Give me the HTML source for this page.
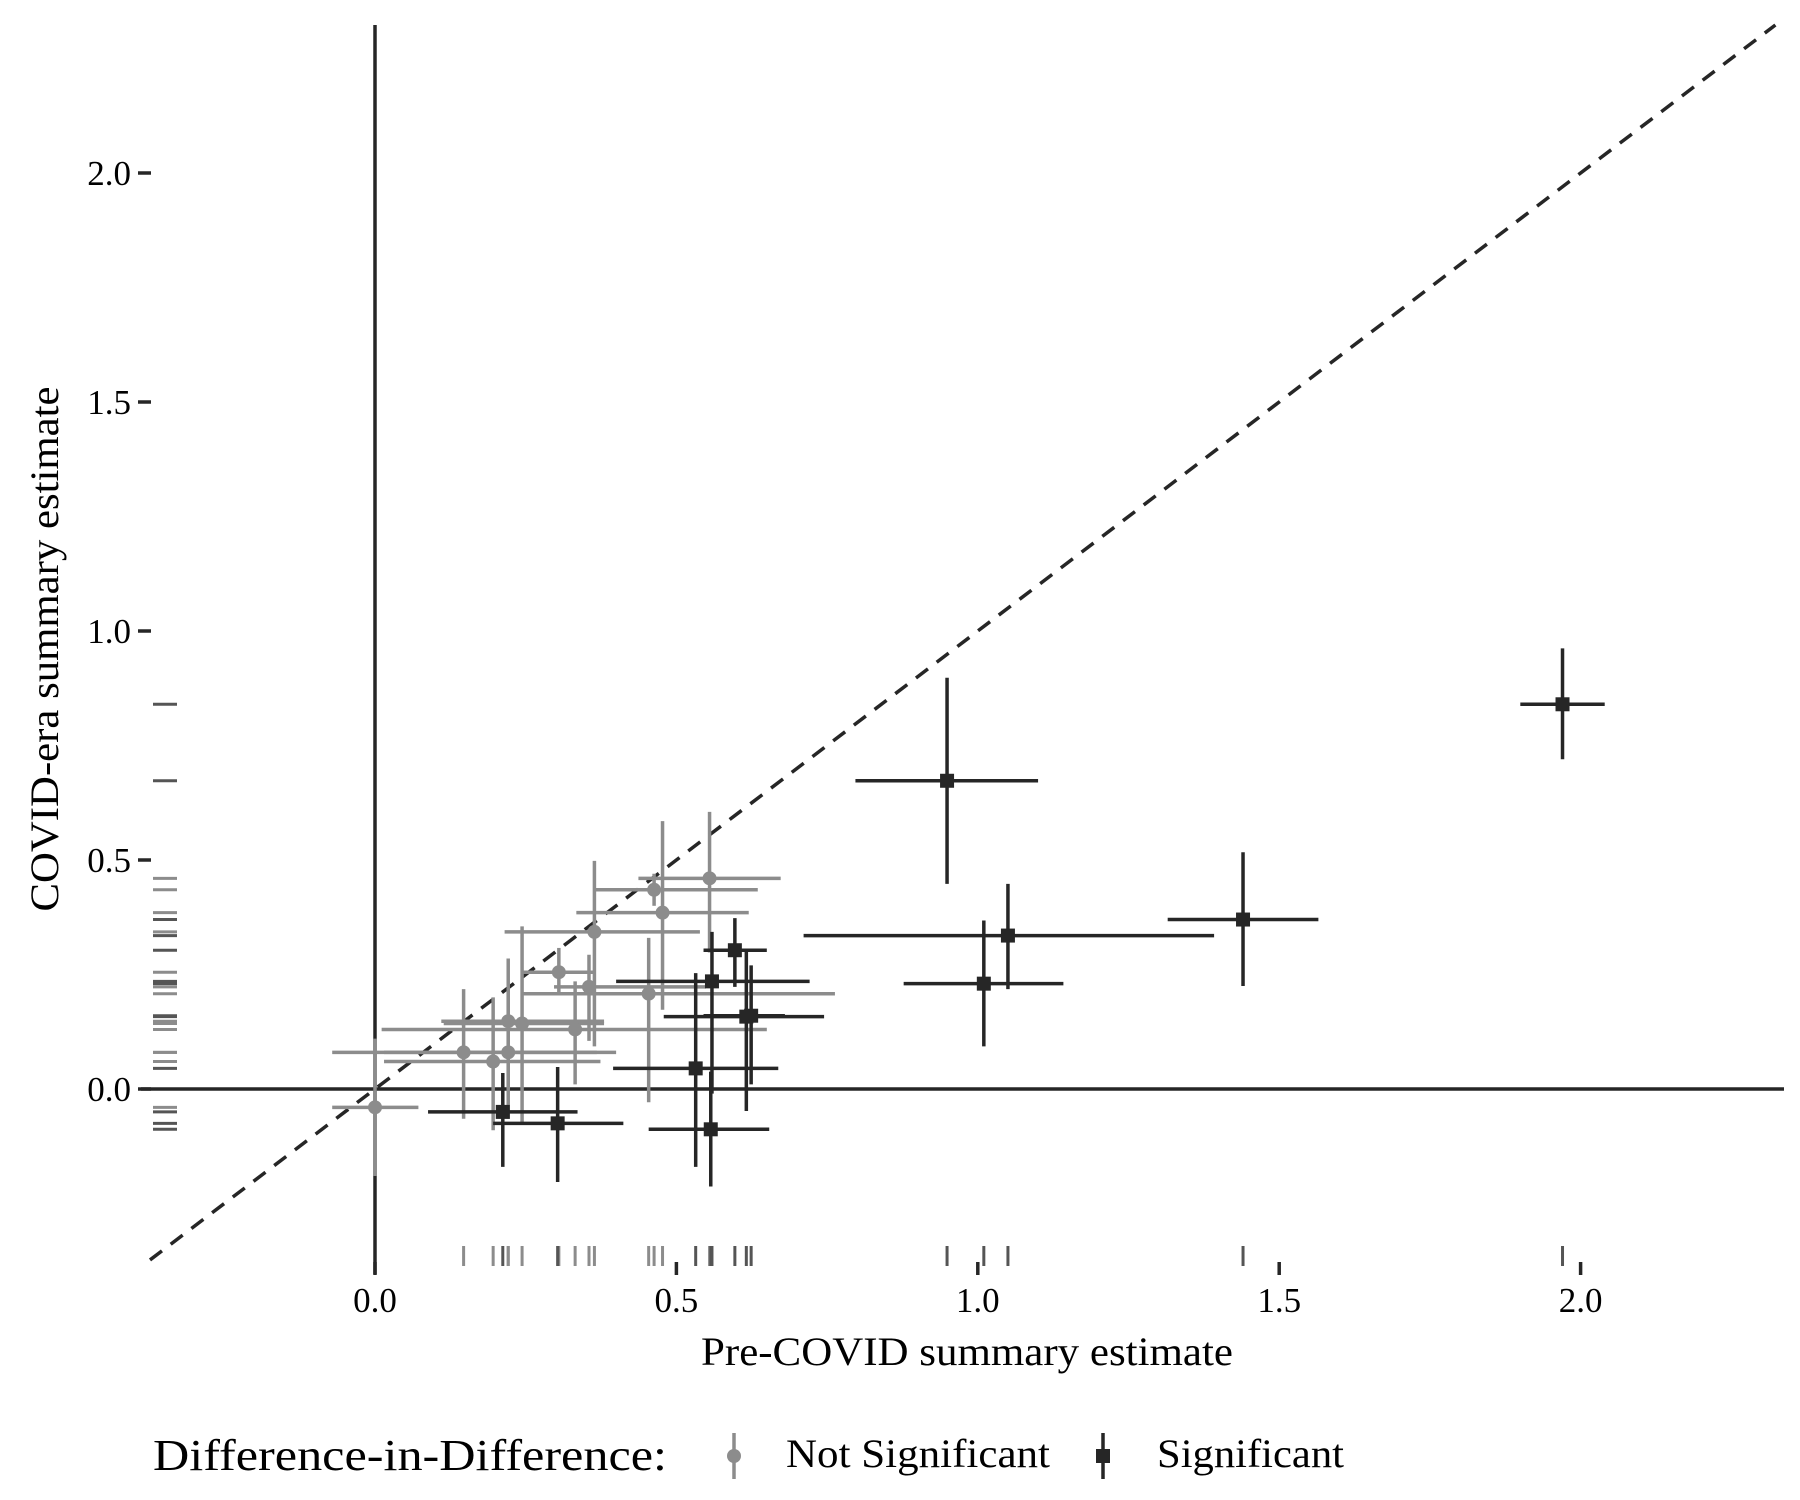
<!DOCTYPE html>
<html><head><meta charset="utf-8"><style>
html,body{margin:0;padding:0;background:#fff;}
svg{display:block;font-family:"Liberation Serif",serif;}
</style></head><body>
<svg id="chart" width="1800" height="1500" viewBox="0 0 1800 1500">
<g id="rugs"></g>
<g id="refs"></g>
<g id="marks"></g>
<g id="axes"></g>
<text x="967" y="1365" font-size="40" text-anchor="middle" textLength="532" lengthAdjust="spacingAndGlyphs">Pre-COVID summary estimate</text>
<text transform="translate(58,649) rotate(-90)" font-size="40" text-anchor="middle" textLength="525" lengthAdjust="spacingAndGlyphs">COVID-era summary estimate</text>
<g>
<text x="153" y="1470" font-size="44" textLength="514" lengthAdjust="spacingAndGlyphs">Difference-in-Difference:</text>
<g>
<line x1="734" y1="1433" x2="734" y2="1479" stroke="#8c8c8c" stroke-width="3.5"/>
<circle cx="734" cy="1456" r="7" fill="#8c8c8c"/>
<text x="786" y="1467" font-size="40" textLength="264" lengthAdjust="spacingAndGlyphs">Not Significant</text>
</g>
<g>
<line x1="1103" y1="1433" x2="1103" y2="1479" stroke="#262626" stroke-width="3.5"/>
<rect x="1096" y="1449" width="14" height="14" fill="#262626"/>
<text x="1157" y="1467" font-size="40" textLength="187" lengthAdjust="spacingAndGlyphs">Significant</text>
</g>
</g>
</svg>
<script>
// Not significant series
const nsX  = [0, 0.147, 0.196, 0.221, 0.221, 0.244, 0.305, 0.332, 0.355, 0.364, 0.454, 0.463, 0.477, 0.555];
const nsY  = [-0.04, 0.08, 0.06, 0.08, 0.148, 0.143, 0.255, 0.13, 0.223, 0.343, 0.208, 0.435, 0.385, 0.46];
const nsXlo = [-0.071, -0.071, 0.015, 0.015, 0.11, 0.114, 0.244, 0.011, 0.297, 0.215, 0.244, 0.362, 0.334, 0.437];
const nsXhi = [0.072, 0.368, 0.374, 0.40, 0.38, 0.38, 0.362, 0.65, 0.549, 0.539, 0.763, 0.635, 0.62, 0.673];
const nsYlo = [-0.19, -0.065, -0.09, -0.065, 0.0, -0.073, 0.208, 0.01, 0.105, 0.093, -0.029, 0.40, 0.173, 0.298];
const nsYhi = [0.11, 0.218, 0.2, 0.285, 0.22, 0.355, 0.308, 0.235, 0.293, 0.498, 0.33, 0.47, 0.585, 0.605];
// Significant series
const sX  = [0.212, 0.303, 0.532, 0.557, 0.559, 0.597, 0.616, 0.624, 0.949, 1.01, 1.05, 1.44, 1.97];
const sY  = [-0.05, -0.075, 0.045, -0.088, 0.235, 0.303, 0.158, 0.16, 0.673, 0.23, 0.335, 0.37, 0.84];
const sXlo = [0.088, 0.196, 0.395, 0.454, 0.40, 0.545, 0.479, 0.545, 0.797, 0.877, 0.711, 1.315, 1.90];
const sXhi = [0.336, 0.412, 0.669, 0.654, 0.721, 0.65, 0.745, 0.68, 1.10, 1.142, 1.392, 1.565, 2.04];
const sYlo = [-0.17, -0.203, -0.17, -0.213, -0.01, 0.223, -0.048, 0.01, 0.448, 0.093, 0.218, 0.225, 0.72];
const sYhi = [0.035, 0.048, 0.253, 0.038, 0.343, 0.373, 0.30, 0.27, 0.898, 0.368, 0.448, 0.517, 0.962];
const xTicks = [0, 0.5, 1.0, 1.5, 2.0];
const yTicks = [0, 0.5, 1.0, 1.5, 2.0];
const xTickLabels = ["0.0", "0.5", "1.0", "1.5", "2.0"];
const yTickLabels = ["0.0", "0.5", "1.0", "1.5", "2.0"];

const NS = "http://www.w3.org/2000/svg";
const X0 = 375, XS = 602.8, Y0 = 1089, YS = 458;
const PL = 150, PR = 1784, PT = 25, PB = 1266;
const xs = v => X0 + XS * v;
const ys = v => Y0 - YS * v;
const GRAY = "#8c8c8c", DARK = "#262626";
function mk(tag, attrs, parent) {
  const e = document.createElementNS(NS, tag);
  for (const k in attrs) e.setAttribute(k, attrs[k]);
  parent.appendChild(e);
  return e;
}
const rugs = document.getElementById("rugs");
const refs = document.getElementById("refs");
const marks = document.getElementById("marks");
const axes = document.getElementById("axes");

let l = mk("line", {x1: xs(0), y1: PT, x2: xs(0), y2: PB + 8, stroke: DARK, "stroke-width": 3.5}, refs);


l = mk("line", {x1: 141, y1: ys(0), x2: PR, y2: ys(0), stroke: DARK, "stroke-width": 3.5}, refs);


const dlo = (PB - Y0) / -YS, dhi = (Y0 - PT) / YS;
const dA = Math.max((PL - X0) / XS, dlo), dB = Math.min((PR - X0) / XS, dhi);
l = mk("line", {x1: xs(dA), y1: ys(dA), x2: xs(dB), y2: ys(dB), stroke: DARK, "stroke-width": 3.5, "stroke-dasharray": "15 11"}, refs);



function rug(xv, yv, col) {
  for (let i = 0; i < xv.length; i++) {
    const a = mk("line", {x1: xs(xv[i]), y1: 1246, x2: xs(xv[i]), y2: 1266, stroke: col, "stroke-width": 3}, rugs);
    
    
    const b = mk("line", {x1: 153, y1: ys(yv[i]), x2: 177, y2: ys(yv[i]), stroke: col, "stroke-width": 3}, rugs);
    
    
  }
}
rug(nsX, nsY, GRAY);
rug(sX, sY, "#555");

function series(xv, yv, xl, xh, yl, yh, col, sq, name) {
  for (let i = 0; i < xv.length; i++) {
    const g = mk("g", {}, marks);
    
    
    mk("line", {x1: xs(xl[i]), y1: ys(yv[i]), x2: xs(xh[i]), y2: ys(yv[i]), stroke: col, "stroke-width": 3.5}, g);
    mk("line", {x1: xs(xv[i]), y1: ys(yl[i]), x2: xs(xv[i]), y2: ys(yh[i]), stroke: col, "stroke-width": 3.5}, g);
    if (sq) mk("rect", {x: xs(xv[i]) - 7, y: ys(yv[i]) - 7, width: 14, height: 14, fill: col}, g);
    else mk("circle", {cx: xs(xv[i]), cy: ys(yv[i]), r: 7, fill: col}, g);
  }
}
series(nsX, nsY, nsXlo, nsXhi, nsYlo, nsYhi, GRAY, false, 'not-significant');
series(sX, sY, sXlo, sXhi, sYlo, sYhi, DARK, true, 'significant');

for (let i = 0; i < xTicks.length; i++) {
  const t = mk("line", {x1: xs(xTicks[i]), y1: 1262, x2: xs(xTicks[i]), y2: 1275, stroke: DARK, "stroke-width": 3.5}, axes);
  
  
  const tx = mk("text", {x: xs(xTicks[i]), y: 1312, "font-size": 35, "text-anchor": "middle"}, axes);
  tx.textContent = xTickLabels[i];
  
  
}
for (let i = 0; i < yTicks.length; i++) {
  const t = mk("line", {x1: 138, y1: ys(yTicks[i]), x2: 151, y2: ys(yTicks[i]), stroke: DARK, "stroke-width": 3.5}, axes);
  
  
  const tx = mk("text", {x: 131, y: ys(yTicks[i]) + 12, "font-size": 35, "text-anchor": "end"}, axes);
  tx.textContent = yTickLabels[i];
  
  
}
</script>
</body></html>
